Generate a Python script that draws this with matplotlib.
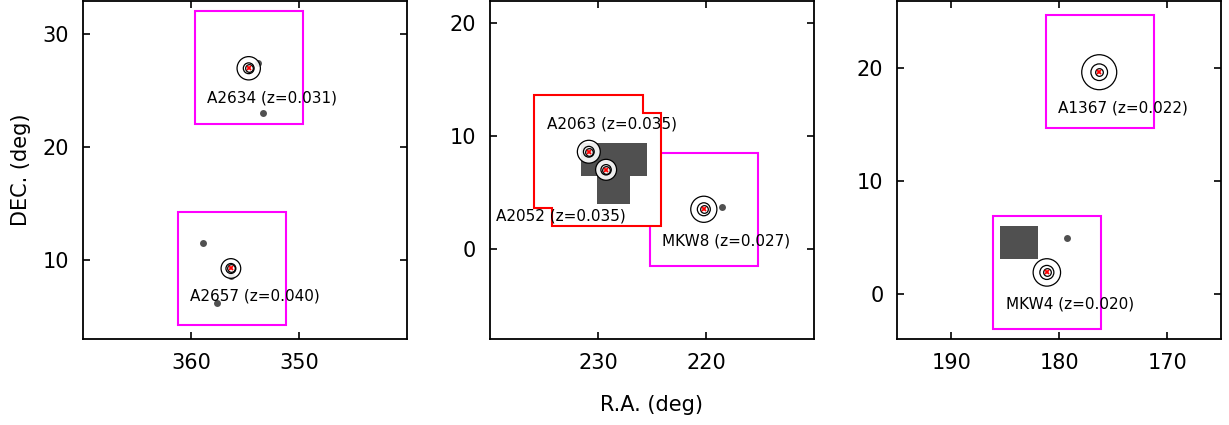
import matplotlib
matplotlib.use("Agg")
import matplotlib.pyplot as plt
from matplotlib.patches import Ellipse, Rectangle, Polygon

# ── cluster data ─────────────────────────────────────────────
names = ["A2634", "A2657", "A2063", "A2052", "MKW8", "A1367", "MKW4"]
redshift = ["0.031", "0.040", "0.035", "0.035", "0.027", "0.022", "0.020"]
ra = [354.65, 356.3, 230.85, 229.25, 220.2, 176.3, 181.15]
dec = [27.0, 9.25, 8.6, 7.0, 3.5, 19.65, 1.9]
r_outer = [1.08, 0.91, 1.06, 0.97, 1.21, 1.62, 1.27]   # deg
r_mid = [0.50, 0.46, 0.50, 0.48, 0.60, 0.77, 0.65]     # deg
panel_of = [0, 0, 1, 1, 1, 2, 2]

# magenta survey boxes: ra_min, ra_max, dec_min, dec_max
box_ra_min = [349.6, 351.2, 215.2, 171.25, 176.1]
box_ra_max = [359.6, 361.2, 225.2, 181.25, 186.15]
box_dec_min = [22.05, 4.25, -1.55, 14.7, -3.1]
box_dec_max = [32.05, 14.25, 8.45, 24.7, 6.9]
box_panel = [0, 0, 1, 2, 2]

# red footprint around A2052/A2063
red_ra = [235.9, 225.8, 225.8, 224.2, 224.2, 234.3, 234.3, 235.9]
red_dec = [13.6, 13.6, 12.0, 12.0, 2.0, 2.0, 3.6, 3.6]

# grey filled regions: ra_min, ra_max, dec_min, dec_max
grey_ra_min = [225.5, 227.05, 182.0]
grey_ra_max = [231.55, 230.05, 185.45]
grey_dec_min = [6.45, 3.95, 3.05]
grey_dec_max = [9.4, 6.45, 6.0]
grey_panel = [1, 1, 2]

# grey points
pt_ra = [353.3, 353.75, 358.9, 357.6, 356.3, 218.5, 179.25]
pt_dec = [23.0, 27.5, 11.5, 6.2, 8.55, 3.7, 4.95]
pt_panel = [0, 0, 0, 0, 0, 1, 2]

# axis ranges and ticks per panel
xlims = [(370, 340), (240, 210), (195, 165)]
ylims = [(3, 33), (-8, 22), (-4, 26)]
xticks = [[360, 350], [230, 220], [190, 180, 170]]
yticks = [[10, 20, 30], [0, 10, 20], [0, 10, 20]]

# label placement (offset from cluster centre, deg)
lab_dx = [3.85, 3.8, 3.85, 10.15, 3.85, 3.8, 3.75]
lab_dy = [-2.65, -2.45, 2.5, -4.1, -2.8, -3.2, -2.8]

MAG = "#ff00ff"
GREY = "#505050"

fig = plt.figure(figsize=(12.29, 4.25), dpi=100)
lefts = [0.0675, 0.3987, 0.7301]
axes = [fig.add_axes([l, 0.2024, 0.2636, 0.7962]) for l in lefts]

for i, ax in enumerate(axes):
    ax.set_xlim(*xlims[i])
    ax.set_ylim(*ylims[i])
    ax.set_xticks(xticks[i])
    ax.set_yticks(yticks[i])
    ax.tick_params(direction="in", length=5, width=1.2, top=True, right=True,
                   labelsize=15, pad=10)
    for s in ax.spines.values():
        s.set_linewidth(1.3)

# px per deg ratio so circles come out round
def yx_ratio(ax):
    bb = ax.get_window_extent()
    x0, x1 = ax.get_xlim()
    y0, y1 = ax.get_ylim()
    return (bb.width / abs(x1 - x0)) / (bb.height / abs(y1 - y0))

for k in range(len(box_panel)):
    ax = axes[box_panel[k]]
    ax.add_patch(Rectangle((box_ra_min[k], box_dec_min[k]),
                           box_ra_max[k] - box_ra_min[k],
                           box_dec_max[k] - box_dec_min[k],
                           fill=False, ec=MAG, lw=1.5, zorder=2))

axes[1].add_patch(Polygon(list(zip(red_ra, red_dec)), closed=True,
                          fc="white", ec="red", lw=1.5, zorder=3))

for k in range(len(grey_panel)):
    ax = axes[grey_panel[k]]
    ax.add_patch(Rectangle((grey_ra_min[k], grey_dec_min[k]),
                           grey_ra_max[k] - grey_ra_min[k],
                           grey_dec_max[k] - grey_dec_min[k],
                           fc=GREY, ec="none", zorder=4))

for k in range(len(pt_panel)):
    axes[pt_panel[k]].plot(pt_ra[k], pt_dec[k], "o", color=GREY, ms=5,
                           mec="none", zorder=5)

for k, nm in enumerate(names):
    ax = axes[panel_of[k]]
    q = yx_ratio(ax)
    ax.add_patch(Ellipse((ra[k], dec[k]), 2 * r_outer[k], 2 * r_outer[k] * q,
                         fc=(1, 1, 1, 0.9), ec="black", lw=0.9, zorder=6))
    ax.add_patch(Ellipse((ra[k], dec[k]), 2 * r_mid[k], 2 * r_mid[k] * q,
                         fill=False, ec="black", lw=0.9, zorder=7))
    ax.plot(ra[k], dec[k], "o", ms=5.5, mfc="none", mec="black", mew=0.9, zorder=8)
    ax.plot(ra[k], dec[k], "x", ms=3.5, color="red", mew=1.3, zorder=9)
    ax.text(ra[k] + lab_dx[k], dec[k] + lab_dy[k], f"{nm} (z={redshift[k]})",
            ha="left", va="center", fontsize=11, zorder=10)

axes[0].set_ylabel("DEC. (deg)", fontsize=15, labelpad=8)
fig.text(0.53, 0.047, "R.A. (deg)", ha="center", va="center", fontsize=15)

fig.savefig("out.png", dpi=100)
